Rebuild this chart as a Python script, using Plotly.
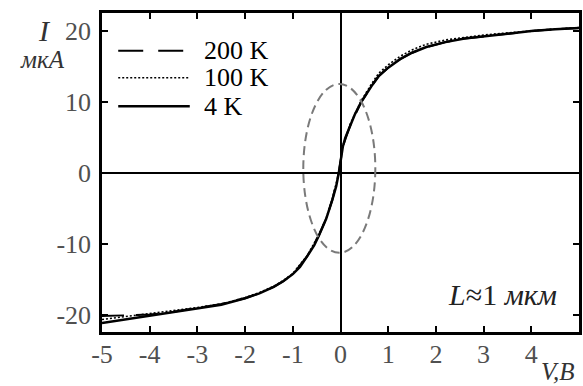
import plotly.graph_objects as go

# Current-voltage characteristics, L ~ 1 um, at three temperatures
V_4K = [-5.0, -4.5, -4.0, -3.5, -3.0, -2.5, -2.0, -1.7, -1.4, -1.2, -1.0, -0.85,
        -0.7, -0.55, -0.45, -0.3, -0.17, -0.09, -0.035, 0.0, 0.02, 0.05, 0.1,
        0.2, 0.3, 0.43, 0.55, 0.65, 0.8, 1.0, 1.25, 1.5, 1.8, 2.2, 2.6, 3.0,
        3.5, 4.0, 4.5, 5.0]
I_4K = [-21.2, -20.7, -20.2, -19.7, -19.2, -18.6, -17.7, -17.0, -16.1, -15.3,
        -14.3, -13.3, -11.8, -10.2, -8.8, -6.5, -3.8, -1.9, 0.0, 1.6, 2.7, 3.7,
        4.9, 6.6, 8.2, 9.9, 11.2, 12.2, 13.6, 14.8, 16.0, 16.9, 17.7, 18.4,
        18.9, 19.2, 19.6, 19.95, 20.2, 20.4]

V_100K = [-5.0, -4.5, -4.0, -3.5, -3.0, -2.5, -2.0, -1.7, -1.4, -1.2, -1.0,
          -0.7, -0.45, -0.3, -0.17, -0.035, 0.0, 0.05, 0.2, 0.43, 0.65, 0.8,
          1.0, 1.25, 1.5, 1.8, 2.2, 2.6, 3.0, 3.5, 4.0, 4.5, 5.0]
I_100K = [-20.7, -20.3, -19.9, -19.5, -19.0, -18.5, -17.6, -16.9, -16.0, -15.2,
          -14.2, -11.7, -8.7, -6.4, -3.7, 0.0, 1.6, 3.8, 6.8, 10.1, 12.5, 14.0,
          15.2, 16.4, 17.3, 18.1, 18.7, 19.1, 19.4, 19.7, 20.0, 20.25, 20.45]

V_200K = [-5.0, -4.5, -4.0, -3.5, -3.0, -2.5, -2.0, -1.7, -1.4, -1.2, -1.0,
          -0.7, -0.45, -0.3, -0.17, -0.035, 0.0, 0.05, 0.2, 0.43, 0.65, 0.8,
          1.0, 1.25, 1.5, 1.8, 2.2, 2.6, 3.0, 3.5, 4.0, 4.5, 5.0]
I_200K = [-20.2, -20.1, -20.0, -19.6, -19.1, -18.5, -17.7, -17.0, -16.1, -15.3,
          -14.3, -11.8, -8.8, -6.5, -3.8, 0.0, 1.6, 3.7, 6.6, 9.9, 12.2, 13.6,
          14.8, 16.0, 16.9, 17.7, 18.4, 18.9, 19.2, 19.6, 19.95, 20.2, 20.4]

# Dashed contour around the zero-bias region
ELLIPSE_V = [-0.78, 0.73]
ELLIPSE_I = [-11.3, 12.5]

X_TICKS = [-5, -4, -3, -2, -1, 0, 1, 2, 3, 4, 5]
Y_TICKS = [-20, -10, 0, 10, 20]

LEGEND_LABELS = ["200 K", "100 K", "4 K"]

FONT = "Liberation Serif"

fig = go.Figure()
fig.add_trace(go.Scatter(x=V_200K, y=I_200K, mode="lines",
                         line=dict(color="black", width=2, dash="22px,12px"),
                         name=LEGEND_LABELS[0]))
fig.add_trace(go.Scatter(x=V_100K, y=I_100K, mode="lines",
                         line=dict(color="black", width=1.6, dash="2px,2px"),
                         name=LEGEND_LABELS[1]))
fig.add_trace(go.Scatter(x=V_4K, y=I_4K, mode="lines",
                         line=dict(color="black", width=2.5),
                         name=LEGEND_LABELS[2]))

fig.add_shape(type="circle", xref="x", yref="y",
              x0=ELLIPSE_V[0], x1=ELLIPSE_V[1], y0=ELLIPSE_I[0], y1=ELLIPSE_I[1],
              line=dict(color="#7a7a7a", width=2, dash="9px,5px"))

# hand-drawn legend: line samples and labels in the upper-left corner
legend_styles = [dict(dash="25px,15px", width=2),
                 dict(dash="2px,2px", width=1.6),
                 dict(dash="solid", width=2.5)]
legend_y = [0.882, 0.797, 0.708]
for label, style, ly in zip(LEGEND_LABELS, legend_styles, legend_y):
    fig.add_shape(type="line", xref="paper", yref="paper",
                  x0=0.034, x1=0.184, y0=ly, y1=ly,
                  line=dict(color="black", width=style["width"], dash=style["dash"]))
    fig.add_annotation(text=label, xref="paper", yref="paper", x=0.21, y=ly,
                       xanchor="left", yanchor="middle", showarrow=False,
                       font=dict(family=FONT, size=26, color="black"))

fig.add_annotation(text="<i>I</i>", xref="paper", yref="paper", x=-0.12, y=0.945,
                   xanchor="center", yanchor="middle", showarrow=False,
                   font=dict(family=FONT, size=30, color="#333"))
fig.add_annotation(text="<i>мкА</i>", xref="paper", yref="paper", x=-0.125, y=0.853,
                   xanchor="center", yanchor="middle", showarrow=False,
                   font=dict(family=FONT, size=25, color="#333"))
fig.add_annotation(text="<i>L</i>≈1 <i>мкм</i>", xref="paper", yref="paper",
                   x=0.84, y=0.118, xanchor="center", yanchor="middle",
                   showarrow=False, font=dict(family=FONT, size=30, color="#222"))
fig.add_annotation(text="<i>V,B</i>", xref="paper", yref="paper", x=0.955, y=-0.172,
                   xanchor="center", yanchor="bottom", showarrow=False,
                   font=dict(family=FONT, size=25, color="#333"))

axis_common = dict(showgrid=False, zeroline=True, zerolinecolor="black",
                   zerolinewidth=2, showline=True, linecolor="black",
                   linewidth=2.5, mirror="allticks", ticks="inside", ticklen=6,
                   tickwidth=2, tickcolor="black",
                   tickfont=dict(family=FONT, size=26, color="#505050"))

fig.update_xaxes(range=[-5, 5], tickvals=X_TICKS,
                 ticktext=[str(t) for t in X_TICKS], ticklabelstandoff=-3,
                 **axis_common)
fig.update_yaxes(range=[-22.45, 22.5], tickvals=Y_TICKS,
                 ticktext=[str(t) for t in Y_TICKS], ticklabelstandoff=3,
                 **axis_common)

fig.update_layout(width=583, height=386, showlegend=False,
                  margin=dict(l=102, r=1, t=13, b=54),
                  paper_bgcolor="white", plot_bgcolor="white")

fig.write_html("out.html")
